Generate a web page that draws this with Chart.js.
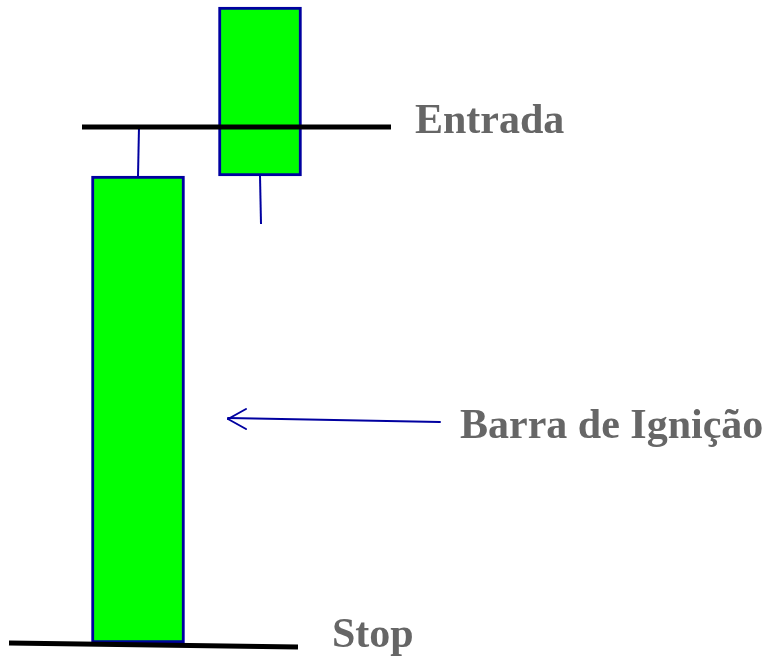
<!DOCTYPE html>
<html>
<head>
<meta charset="utf-8">
<script src="https://cdn.jsdelivr.net/npm/chart.js@4"></script>
<style>
html,body{margin:0;padding:0;background:#fff;}
#wrap{width:773px;height:657px;position:relative;}
</style>
</head>
<body>
<div id="wrap"><canvas id="c"></canvas></div>
<script>
// Candles (price units, x = position along time axis)
const candleX     = [138, 260];
const candleOpen  = [14, 481];
const candleClose = [481, 650];
const candleHigh  = [530, 650];
const candleLow   = [14, 433];
const candleWidth = [93, 83];

// Reference levels
const entradaLine = [{x: 82, y: 530}, {x: 391, y: 530}];
const stopLine    = [{x: 9, y: 14}, {x: 298, y: 10}];

// Arrow pointing at ignition bar
const arrowShaft = [{x: 440, y: 235}, {x: 228, y: 239}];
const arrowHeadA = [{x: 246, y: 248}, {x: 228, y: 238}];
const arrowHeadB = [{x: 246, y: 228}, {x: 228, y: 238}];

// Labels
const labelTexts = ["Entrada", "Barra de Ignição", "Stop"];
const labelX     = [415, 460, 332];
const labelY     = [524, 219, 10];

const BLUE = '#0000a0';

const datasets = [];
// Wicks
for (let i = 0; i < candleX.length; i++) {
  const top = Math.max(candleOpen[i], candleClose[i]);
  const bot = Math.min(candleOpen[i], candleClose[i]);
  if (candleHigh[i] > top) {
    datasets.push({type: 'line', data: [{x: candleX[i] + 1, y: candleHigh[i]}, {x: candleX[i], y: top}],
      borderColor: BLUE, borderWidth: 2, pointRadius: 0, order: 3});
  }
  if (candleLow[i] < bot) {
    datasets.push({type: 'line', data: [{x: candleX[i], y: bot}, {x: candleX[i] + 1, y: candleLow[i]}],
      borderColor: BLUE, borderWidth: 2, pointRadius: 0, order: 3});
  }
}
// Bodies
for (let i = 0; i < candleX.length; i++) {
  datasets.push({type: 'bar', data: [{x: candleX[i], y: [candleOpen[i], candleClose[i]]}],
    backgroundColor: '#00ff00', borderColor: BLUE, borderWidth: 3, borderSkipped: false,
    barThickness: candleWidth[i], grouped: false, order: 2});
}
// Level lines
datasets.push({type: 'line', data: entradaLine, borderColor: '#000', borderWidth: 5, pointRadius: 0, order: 1});
datasets.push({type: 'line', data: stopLine, borderColor: '#000', borderWidth: 5, pointRadius: 0, order: 1});
// Arrow
[arrowShaft, arrowHeadA, arrowHeadB].forEach(d => {
  datasets.push({type: 'line', data: d, borderColor: BLUE, borderWidth: 2, pointRadius: 0, order: 1, borderCapStyle: 'round'});
});

const labelPlugin = {
  id: 'labels',
  afterDatasetsDraw(chart) {
    const ctx = chart.ctx;
    const xs = chart.scales.x, ys = chart.scales.y;
    ctx.save();
    ctx.font = 'bold 42px "Liberation Serif", "Times New Roman", serif';
    ctx.fillStyle = '#666666';
    ctx.textBaseline = 'alphabetic';
    ctx.textAlign = 'left';
    labelTexts.forEach((t, i) => {
      ctx.fillText(t, xs.getPixelForValue(labelX[i]), ys.getPixelForValue(labelY[i]));
    });
    ctx.restore();
  }
};

new Chart(document.getElementById('c'), {
  type: 'bar',
  data: {datasets},
  options: {
    responsive: true,
    maintainAspectRatio: false,
    animation: false,
    layout: {padding: 0},
    plugins: {legend: {display: false}, tooltip: {enabled: false}},
    scales: {
      x: {type: 'linear', min: 0, max: 773, display: false, offset: false},
      y: {type: 'linear', min: 0, max: 657, display: false}
    }
  },
  plugins: [labelPlugin]
});
</script>
</body>
</html>
